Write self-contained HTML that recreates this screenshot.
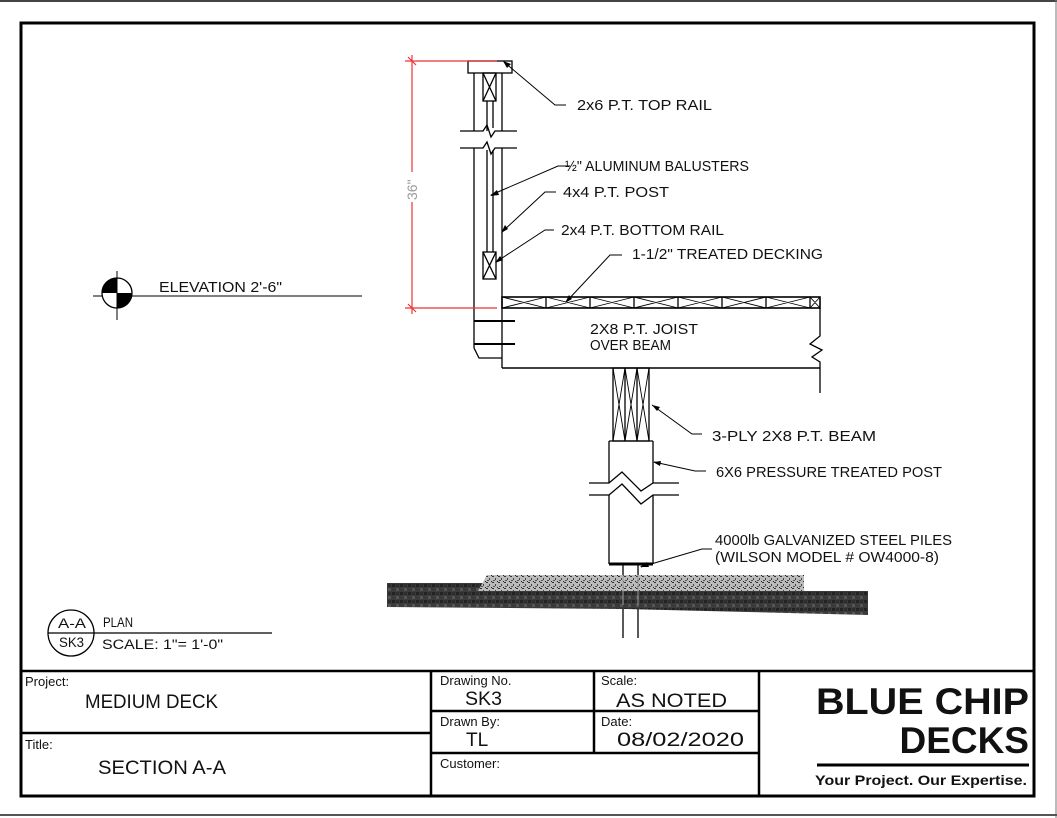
<!DOCTYPE html>
<html><head><meta charset="utf-8"><style>
html,body{margin:0;padding:0;background:#fff;}
svg{display:block;}
text{font-family:"Liberation Sans",sans-serif;fill:#111;}
</style></head><body>
<svg width="1057" height="818" viewBox="0 0 1057 818" xmlns="http://www.w3.org/2000/svg">
<defs>
<pattern id="soil" width="8" height="8" patternUnits="userSpaceOnUse">
<rect width="8" height="8" fill="#3a3a3a"/>
<rect x="0" y="0" width="3" height="3" fill="#222"/>
<rect x="4" y="4" width="3" height="3" fill="#555"/>
<rect x="4" y="0" width="3" height="3" fill="#2c2c2c"/>
</pattern>
<pattern id="grav" width="6" height="6" patternUnits="userSpaceOnUse">
<rect width="6" height="6" fill="#bbb"/>
<rect x="0" y="0" width="2" height="1" fill="#333"/>
<rect x="3" y="2" width="1" height="2" fill="#444"/>
<rect x="1" y="4" width="2" height="1" fill="#555"/>
<rect x="5" y="5" width="1" height="1" fill="#222"/>
</pattern>
</defs>
<rect x="0" y="0" width="1057" height="818" fill="#fff"/>
<line x1="0" y1="1" x2="1057" y2="1" stroke="#444" stroke-width="2"/>
<line x1="1056" y1="0" x2="1056" y2="818" stroke="#777" stroke-width="1"/>
<line x1="0" y1="815" x2="1057" y2="815" stroke="#555" stroke-width="2"/>
<rect x="21" y="23" width="1013" height="773" fill="none" stroke="#000" stroke-width="3"/>

<g stroke="#000" stroke-width="1.3" fill="none">
<rect x="468" y="61" width="44" height="12"/>
<line x1="474" y1="73" x2="474" y2="131"/>
<line x1="502" y1="73" x2="502" y2="131"/>
<line x1="474" y1="148" x2="474" y2="348"/>
<line x1="502" y1="148" x2="502" y2="368"/>
<polyline points="474,348 479,358 502,358"/>
<polyline points="460,131 483,131 487,125 491,137 495,131 517,131"/>
<polyline points="460,148 483,148 487,142 491,154 495,148 517,148"/>
<rect x="483" y="73" width="13" height="28"/>
<path d="M483 73L496 101M496 73L483 101"/>
<line x1="487" y1="101" x2="487" y2="131"/>
<line x1="493" y1="101" x2="493" y2="128"/>
<line x1="487" y1="150" x2="487" y2="252"/>
<line x1="493" y1="150" x2="493" y2="252"/>
<rect x="483" y="252" width="13" height="27"/>
<path d="M483 252L496 279M496 252L483 279"/>
<line x1="474" y1="321" x2="515" y2="321" stroke-width="2"/>
<line x1="474" y1="344" x2="515" y2="344" stroke-width="2"/>
<rect x="502" y="297" width="318" height="11" stroke-width="1.6"/>
<path d="M546 297V308M590 297V308M634 297V308M678 297V308M722 297V308M766 297V308M810 297V308"/>
<path d="M502 297L546 308M546 297L502 308M546 297L590 308M590 297L546 308M590 297L634 308M634 297L590 308M634 297L678 308M678 297L634 308M678 297L722 308M722 297L678 308M722 297L766 308M766 297L722 308M766 297L810 308M810 297L766 308M810 297L820 308M820 297L810 308" stroke-width="0.9"/>
<line x1="502" y1="368" x2="820" y2="368" stroke-width="1.6"/>
<polyline points="820,308 820,336 810,344 822,350 812,357 820,362 820,393"/>
<rect x="613" y="368" width="36" height="73"/>
<line x1="625" y1="368" x2="625" y2="441"/>
<line x1="637" y1="368" x2="637" y2="441"/>
<path d="M613 368L625 441M625 368L613 441M625 368L637 441M637 368L625 441M637 368L649 441M649 368L637 441" stroke-width="0.9"/>
<line x1="609" y1="441" x2="653" y2="441"/>
<line x1="609" y1="441" x2="609" y2="483"/>
<line x1="653" y1="441" x2="653" y2="483"/>
<line x1="609" y1="495" x2="609" y2="564"/>
<line x1="653" y1="495" x2="653" y2="564"/>
<polyline points="589,483 609,483 622,472 641,491 653,483 679,483"/>
<polyline points="589,495 609,495 622,484 641,504 653,495 679,495"/>
<line x1="609" y1="564" x2="653" y2="564" stroke-width="3"/>
<line x1="623" y1="564" x2="623" y2="638"/>
<line x1="638" y1="564" x2="638" y2="638"/>
</g>
<polygon points="387,583 483,583 487,575 804,575 804,591 868,591 868,615 627,609 387,607" fill="url(#soil)"/>
<polygon points="478,591 487,575 804,575 804,591" fill="url(#grav)"/>
<line x1="623" y1="575" x2="623" y2="605" stroke="#999"/>
<line x1="638" y1="575" x2="638" y2="605" stroke="#999"/>

<g stroke="#e33" stroke-width="1.2">
<line x1="412" y1="55" x2="412" y2="314"/>
<line x1="405" y1="61" x2="497" y2="61"/>
<line x1="405" y1="308" x2="497" y2="308"/>
<path d="M408 57L416 65M408 304L416 312"/>
</g>
<rect x="406" y="172" width="12" height="30" fill="#fff"/>
<text x="0" y="0" font-size="14" style="fill:#999" transform="translate(417,200) rotate(-90)">36"</text>

<g stroke="#000" stroke-width="1" fill="none">
<polyline points="504,62 555,105 566,105"/>
<polyline points="491,195 558,166 570,166"/>
<polyline points="502,232 545,192 556,192"/>
<polyline points="496,262 545,230 554,230"/>
<polyline points="566,302 610,255 622,255"/>
<polyline points="652,405 692,434 702,434"/>
<polyline points="654,462 695,471 706,471"/>
<polyline points="641,567 702,549 712,549"/>
</g>
<g fill="#000">
<polygon points="503,61 511,64 507,68"/>
<polygon points="490,196 497,190 499,195"/>
<polygon points="501,233 505,225 508,229"/>
<polygon points="495,263 500,256 503,260"/>
<polygon points="565,303 569,295 572,299"/>
<polygon points="652,405 660,407 657,411"/>
<polygon points="653,462 661,461 660,466"/>
<polygon points="640,567 647,562 649,567"/>
</g>

<g font-size="14.5">
<text x="577" y="110" textLength="135" lengthAdjust="spacingAndGlyphs">2x6 P.T. TOP RAIL</text>
<text x="565" y="171" textLength="184" lengthAdjust="spacingAndGlyphs">½" ALUMINUM BALUSTERS</text>
<text x="563" y="197" textLength="106" lengthAdjust="spacingAndGlyphs">4x4 P.T. POST</text>
<text x="561" y="235" textLength="163" lengthAdjust="spacingAndGlyphs">2x4 P.T. BOTTOM RAIL</text>
<text x="632" y="259" textLength="191" lengthAdjust="spacingAndGlyphs">1-1/2" TREATED DECKING</text>
<text x="590" y="334" textLength="108" lengthAdjust="spacingAndGlyphs">2X8 P.T. JOIST</text>
<text x="590" y="350" textLength="81" lengthAdjust="spacingAndGlyphs">OVER BEAM</text>
<text x="712" y="441" textLength="164" lengthAdjust="spacingAndGlyphs">3-PLY 2X8 P.T. BEAM</text>
<text x="716" y="477" textLength="226" lengthAdjust="spacingAndGlyphs">6X6 PRESSURE TREATED POST</text>
<text x="715" y="545" textLength="237" lengthAdjust="spacingAndGlyphs">4000lb GALVANIZED STEEL PILES</text>
<text x="715" y="562" textLength="224" lengthAdjust="spacingAndGlyphs">(WILSON MODEL # OW4000-8)</text>
<text x="159" y="292" textLength="123" lengthAdjust="spacingAndGlyphs">ELEVATION 2'-6"</text>
</g>

<line x1="93" y1="296" x2="362" y2="296" stroke="#555" stroke-width="1.5"/>
<circle cx="117" cy="293" r="15" fill="#fff" stroke="#000" stroke-width="1.3"/>
<path d="M117 293L117 278A15 15 0 0 0 102 293Z" fill="#000"/>
<path d="M117 293L132 293A15 15 0 0 1 117 308Z" fill="#000"/>
<line x1="117" y1="271" x2="117" y2="320" stroke="#000" stroke-width="1"/>

<circle cx="71" cy="633" r="23" fill="none" stroke="#000" stroke-width="1.3"/>
<line x1="48" y1="633" x2="272" y2="633" stroke="#000" stroke-width="1.2"/>
<text x="58" y="628" font-size="13.5" textLength="28" lengthAdjust="spacingAndGlyphs">A-A</text>
<text x="59" y="647" font-size="13.5" textLength="25" lengthAdjust="spacingAndGlyphs">SK3</text>
<text x="103" y="627" font-size="13.5" textLength="30" lengthAdjust="spacingAndGlyphs">PLAN</text>
<text x="102" y="649" font-size="13.5" textLength="121" lengthAdjust="spacingAndGlyphs">SCALE: 1"= 1'-0"</text>

<g stroke="#000" stroke-width="2.5">
<line x1="21" y1="671" x2="1034" y2="671"/>
<line x1="21" y1="733" x2="431" y2="733"/>
<line x1="431" y1="671" x2="431" y2="796"/>
<line x1="431" y1="711" x2="759" y2="711"/>
<line x1="431" y1="753" x2="759" y2="753"/>
<line x1="594" y1="671" x2="594" y2="753"/>
<line x1="759" y1="671" x2="759" y2="796"/>
<line x1="817" y1="765" x2="1029" y2="765" stroke-width="3"/>
</g>
<text x="25" y="686" font-size="13">Project:</text>
<text x="85" y="708" font-size="19" textLength="133" lengthAdjust="spacingAndGlyphs">MEDIUM DECK</text>
<text x="25" y="749" font-size="13">Title:</text>
<text x="98" y="774" font-size="19" textLength="128" lengthAdjust="spacingAndGlyphs">SECTION A-A</text>
<text x="440" y="685" font-size="13">Drawing No.</text>
<text x="465" y="705" font-size="19" textLength="37" lengthAdjust="spacingAndGlyphs">SK3</text>
<text x="440" y="726" font-size="13">Drawn By:</text>
<text x="466" y="746" font-size="19">TL</text>
<text x="440" y="768" font-size="13">Customer:</text>
<text x="601" y="685" font-size="13">Scale:</text>
<text x="616" y="707" font-size="19" textLength="111" lengthAdjust="spacingAndGlyphs">AS NOTED</text>
<text x="601" y="726" font-size="13">Date:</text>
<text x="617" y="746" font-size="19" textLength="127" lengthAdjust="spacingAndGlyphs">08/02/2020</text>
<text x="1029" y="714" font-size="37" font-weight="bold" text-anchor="end" textLength="213" lengthAdjust="spacingAndGlyphs">BLUE CHIP</text>
<text x="1029" y="753" font-size="37" font-weight="bold" text-anchor="end">DECKS</text>
<text x="1027" y="785" font-size="14" font-weight="bold" text-anchor="end" textLength="212" lengthAdjust="spacingAndGlyphs">Your Project. Our Expertise.</text>
</svg>
</body></html>
